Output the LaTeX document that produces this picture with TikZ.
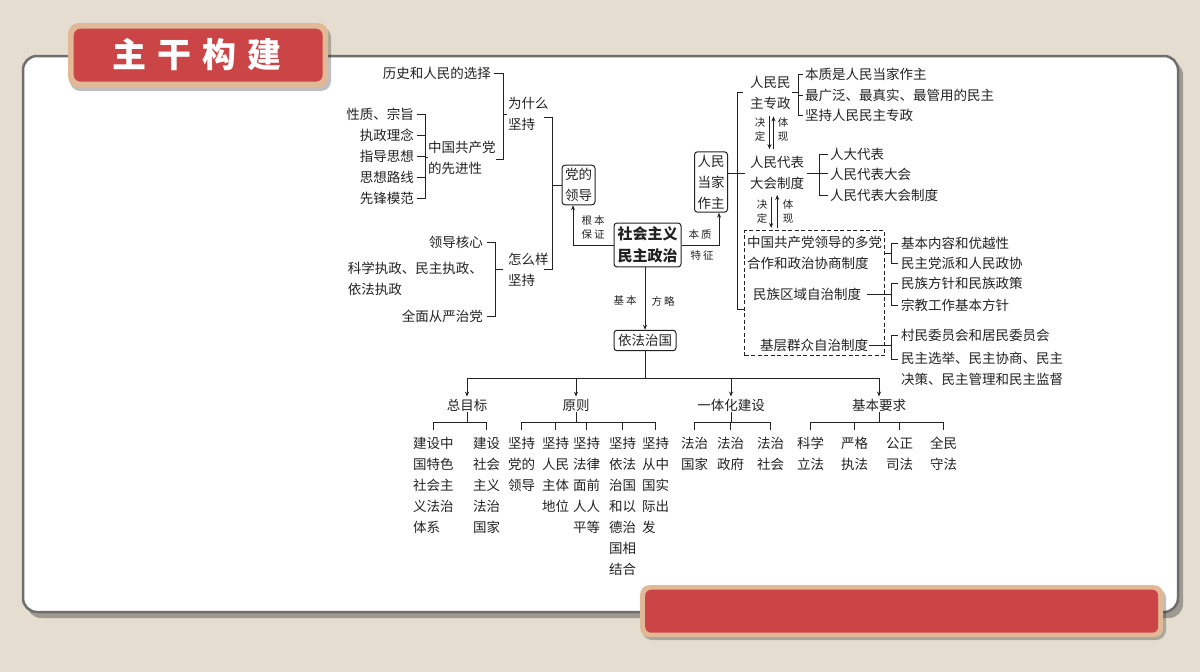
\documentclass[tikz,border=0pt]{standalone}
\usepackage{fontspec}
\setmainfont{Noto Sans CJK SC}
\usetikzlibrary{arrows.meta,calc}
\definecolor{bg}{HTML}{E5DED0}
\definecolor{tred}{HTML}{CB4547}
\definecolor{ttan}{HTML}{E2B997}
\definecolor{ink}{HTML}{222222}
\definecolor{pframe}{HTML}{6E6E6E}
\begin{document}
\begin{tikzpicture}[x=1pt,y=-1pt,
  t/.style={inner sep=0pt, font=\fontsize{13.5}{21}\selectfont, text=ink},
  sm/.style={inner sep=0pt, font=\fontsize{10.5}{14}\selectfont, text=ink, align=center},
  box/.style={draw=ink, rounded corners=3pt, line width=1pt, inner sep=3pt, font=\fontsize{13.5}{21}\selectfont, align=center, text=ink},
  ln/.style={draw=ink, line width=1pt},
  arr/.style={ln, -{Stealth[length=5pt,width=4pt]}},
  dbx/.style={draw=ink, line width=1pt, dash pattern=on 4pt off 2.5pt}
]
\useasboundingbox (0,0) rectangle (1200,672);
\fill[bg] (0,0) rectangle (1200,672);
% panel
\fill[black, opacity=0.3, rounded corners=14pt] (27,61) rectangle (1183,618);
\filldraw[fill=white, draw=pframe, line width=2.5pt, rounded corners=14pt] (23,56) rectangle (1178,612);
% title
\fill[black, opacity=0.25, rounded corners=10pt] (70,27) rectangle (331,91);
\node[fill=ttan, rounded corners=10pt, minimum width=260, minimum height=64, inner sep=0, anchor=north west] (tout) at (68,23) {};
\node[fill=tred, rounded corners=7pt, minimum width=249, minimum height=53, inner sep=0] (tin) at (tout.center) {};
\node[text=white, inner sep=0, font=\fontsize{34}{34}\selectfont\bfseries] (ttl) at (197,55) {主\hspace{11pt}干\hspace{11pt}构\hspace{11pt}建};
% bottom bar
\fill[black, opacity=0.25, rounded corners=10pt] (642,588) rectangle (1166,640);
\node[fill=ttan, rounded corners=9pt, minimum width=523, minimum height=52, inner sep=0, anchor=north west] (bout) at (640,585) {};
\node[fill=tred, rounded corners=6pt, minimum width=513, minimum height=43, inner sep=0] (bin) at (bout.center) {};

% ---------- left upper ----------
\node[t,anchor=east] (ls) at (491,73) {历史和人民的选择};
\node[t,anchor=west,align=left] (wsm) at (508,114) {为什么\\坚持};
\node[t,anchor=east] (p1) at (414,114) {性质、宗旨};
\node[t,anchor=east] (p2) at (414,135) {执政理念};
\node[t,anchor=east] (p3) at (414,156) {指导思想};
\node[t,anchor=east] (p4) at (414,177) {思想路线};
\node[t,anchor=east] (p5) at (414,198) {先锋模范};
\node[t,anchor=west,align=left] (xjx) at (428,157.5) {中国共产党\\的先进性};
\coordinate (bA) at (503,0);
\coordinate (yA) at (0,159);
\draw[ln] ([xshift=3pt]ls.east) -| (bA |- yA) -- (xjx.east |- yA);
\draw[ln] (bA |- wsm.west) -- ([xshift=-1pt]wsm.west);
\coordinate (bB) at (425,0);
\draw[ln] ([xshift=3pt]p1.east) -| (bB |- p5.east) -- ([xshift=3pt]p5.east);
\foreach \n in {p2,p3,p4} \draw[ln] ([xshift=3pt]\n.east) -- (bB |- \n.east);
\draw[ln] (bB |- xjx.west) -- (xjx.west);

% ---------- left lower ----------
\node[t,anchor=east] (q1) at (483,242) {领导核心};
\node[t,anchor=east,align=left] (q2) at (483,278.5) {科学执政、民主执政、\\依法执政};
\node[t,anchor=east] (q3) at (483,316) {全面从严治党};
\node[t,anchor=west,align=left] (zmy) at (508,269.5) {怎么样\\坚持};
\coordinate (bC) at (495,0);
\draw[ln] ([xshift=4pt]q1.east) -| (bC |- q3.east) -- ([xshift=4pt]q3.east);
\draw[ln] (bC |- zmy.west) -- ([xshift=-5pt]zmy.west);

% ---------- party leadership ----------
\node[box] (ddld) at (578.5,185) {党的\\领导};
\coordinate (bD) at (552,0);
\draw[ln] ($(wsm.east)+(-5,3)$) -| (bD |- zmy.east) -- ($(zmy.east)+(-5,0)$);
\draw[ln] (bD |- ddld.west) -- (ddld.west);

% ---------- centre ----------
\node[box, inner sep=3.5pt, font=\fontsize{15}{22.5}\selectfont\bfseries] (smz) at (647.5,245) {社会主义\\民主政治};
\draw[arr] (smz.west) -| ([xshift=-5.5pt]ddld.south);
\node[sm] (gb) at (593,228) {根\hspace{2pt}本\\保\hspace{2pt}证};
\node[box] (rmdj) at (711,182) {人民\\当家\\作主};
\draw[arr] (smz.east) -| ([xshift=8pt]rmdj.south);
\node[sm] (bz) at (700,235) {本\hspace{2pt}质};
\node[sm] (tz) at (702,256) {特\hspace{2pt}征};
\node[box, inner sep=4pt] (yfzg) at (645,340.5) {依法治国};
\draw[arr] (yfzg.north |- smz.south) -- (yfzg.north);
\node[sm] (jb) at (625,301) {基\hspace{2pt}本};
\node[sm] (fl) at (663,301) {方\hspace{2pt}略};

% ---------- bottom tree ----------
\coordinate (hb) at (0,378);
\coordinate (bar) at (0,422);
\coordinate (tk) at (0,430);
\draw[ln] (yfzg.south) -- (yfzg.south |- hb);
\node[t] (zmb) at (467,405) {总目标};
\node[t] (yz) at (576,405) {原则};
\node[t] (ytj) at (731,405) {一体化建设};
\node[t] (jbyq) at (879,405) {基本要求};
\draw[ln] (zmb.north |- hb) -- (jbyq.north |- hb);
\foreach \n in {zmb,yz,ytj,jbyq} \draw[arr] (\n.north |- hb) -- ([yshift=2pt]\n.north);
\foreach \n in {zmb,yz,ytj,jbyq} \draw[ln] ([yshift=-1pt]\n.south) -- (\n.south |- bar);

\node[t,anchor=west,align=left] (a1) at (413,485) {建设中\\国特色\\社会主\\义法治\\体系};
\node[t,anchor=west,align=left] (a2) at (473,485) {建设\\社会\\主义\\法治\\国家};
\node[t,anchor=west,align=left] (b1) at (508,464) {坚持\\党的\\领导};
\node[t,anchor=west,align=left] (b2) at (542,474.5) {坚持\\人民\\主体\\地位};
\node[t,anchor=west,align=left] (b3) at (573,485) {坚持\\法律\\面前\\人人\\平等};
\node[t,anchor=west,align=left] (b4) at (609,506) {坚持\\依法\\治国\\和以\\德治\\国相\\结合};
\node[t,anchor=west,align=left] (b5) at (642,485) {坚持\\从中\\国实\\际出\\发};
\node[t,anchor=west,align=left] (c1) at (681,453.5) {法治\\国家};
\node[t,anchor=west,align=left] (c2) at (717,453.5) {法治\\政府};
\node[t,anchor=west,align=left] (c3) at (757,453.5) {法治\\社会};
\node[t,anchor=west,align=left] (d1) at (797,453.5) {科学\\立法};
\node[t,anchor=west,align=left] (d2) at (841,453.5) {严格\\执法};
\node[t,anchor=west,align=left] (d3) at (886,453.5) {公正\\司法};
\node[t,anchor=west,align=left] (d4) at (930,453.5) {全民\\守法};
\draw[ln] (a1.north |- tk) |- (a2.north |- bar) -- (a2.north |- tk);
\draw[ln] (b1.north |- tk) |- (b5.north |- bar) -- (b5.north |- tk);
\foreach \n in {b2,b3,b4} \draw[ln] (\n.north |- bar) -- (\n.north |- tk);
\draw[ln] (c1.north |- tk) |- (c3.north |- bar) -- (c3.north |- tk);
\draw[ln] (c2.north |- bar) -- (c2.north |- tk);
\draw[ln] (d1.north |- tk) |- (d4.north |- bar) -- (d4.north |- tk);
\foreach \n in {d2,d3} \draw[ln] (\n.north |- bar) -- (\n.north |- tk);

% ---------- right side ----------
\node[t,anchor=west,align=left] (rmzz) at (750,92.5) {人民民\\主专政};
\node[t,anchor=west,align=left] (rmdb) at (750,173) {人民代表\\大会制度};
\node[t,anchor=west] (r1) at (805,74) {本质是人民当家作主};
\node[t,anchor=west] (r2) at (805,95) {最广泛、最真实、最管用的民主};
\node[t,anchor=west] (r3) at (805,115) {坚持人民民主专政};
\coordinate (bE) at (798,0);
\draw[ln] ([xshift=-2pt]r1.west) -| (bE |- r3.west) -- ([xshift=-2pt]r3.west);
\draw[ln] ([xshift=-2pt]r2.west) -- (bE |- r2.west);
\draw[ln] ([xshift=1pt]rmzz.east) -- (bE |- rmzz.east);

\node[t,anchor=west] (s1) at (830,154) {人大代表};
\node[t,anchor=west] (s2) at (830,174) {人民代表大会};
\node[t,anchor=west] (s3) at (830,195) {人民代表大会制度};
\coordinate (bF) at (819,0);
\draw[ln] ([xshift=-2pt]s1.west) -| (bF |- s3.west) -- ([xshift=-2pt]s3.west);
\draw[ln] ([xshift=3pt]rmdb.east) -- ([xshift=-2pt]rmdb.east -| s2.west);

\node[dbx, minimum width=140, minimum height=125, anchor=north west, inner sep=0] (dbox) at (744,230) {};
\coordinate (bG) at (737,0);
\coordinate (yG) at (0,309);
\draw[ln] ([xshift=-7pt]rmzz.west) -| (bG |- yG) -- (dbox.west |- yG);
\draw[ln] (rmdj.east |- rmdb.west) -- ([xshift=-5pt]rmdb.west);

% decide / embody arrows
\draw[arr] ($(rmzz.south)+(-1,7)$) -- ($(rmzz.south |- rmdb.north)+(-1,-7)$);
\draw[arr] ($(rmzz.south |- rmdb.north)+(3,-7)$) -- ($(rmzz.south)+(3,7)$);
\node[sm] (jd1) at (760,130) {决\\定};
\node[sm] (tx1) at (783,130) {体\\现};
\draw[arr] ($(rmdb.south)+(-6,7)$) -- ($(rmdb.south |- dbox.north)+(-6,-2)$);
\draw[arr] ($(rmdb.south |- dbox.north)+(0,-2)$) -- ($(rmdb.south)+(0,5)$);
\node[sm] (jd2) at (762,212) {决\\定};
\node[sm] (tx2) at (788,212) {体\\现};

\node[t,anchor=west,align=left] (dp) at (747,253) {中国共产党领导的多党\\合作和政治协商制度};
\node[t,anchor=west] (mz) at (753,294) {民族区域自治制度};
\node[t,anchor=west] (jc) at (760,345) {基层群众自治制度};
\node[t,anchor=west] (u1) at (901,243) {基本内容和优越性};
\node[t,anchor=west] (u2) at (901,263) {民主党派和人民政协};
\node[t,anchor=west] (v1) at (901,283) {民族方针和民族政策};
\node[t,anchor=west] (v2) at (901,305) {宗教工作基本方针};
\node[t,anchor=west] (w1) at (901,335) {村民委员会和居民委员会};
\node[t,anchor=west,align=left] (w2) at (901,369) {民主选举、民主协商、民主\\决策、民主管理和民主监督};
\coordinate (bH) at (891,0);
\coordinate (w2a) at ($(w2.north west)+(-3,7)$);
\draw[ln] ([xshift=-3pt]u1.west) -| (bH |- u2.west) -- ([xshift=-3pt]u2.west);
\draw[ln] (dbox.east |- dp.east) -- (bH |- dp.east);
\draw[ln] ([xshift=-3pt]v1.west) -| (bH |- v2.west) -- ([xshift=-3pt]v2.west);
\draw[ln] ([xshift=6pt]mz.east) -- (bH |- mz.east);
\draw[ln] ([xshift=-3pt]w1.west) -| (bH |- w2a) -- (w2a);
\draw[ln] ([xshift=1pt]jc.east) -- (bH |- jc.east);
\end{tikzpicture}
\end{document}
